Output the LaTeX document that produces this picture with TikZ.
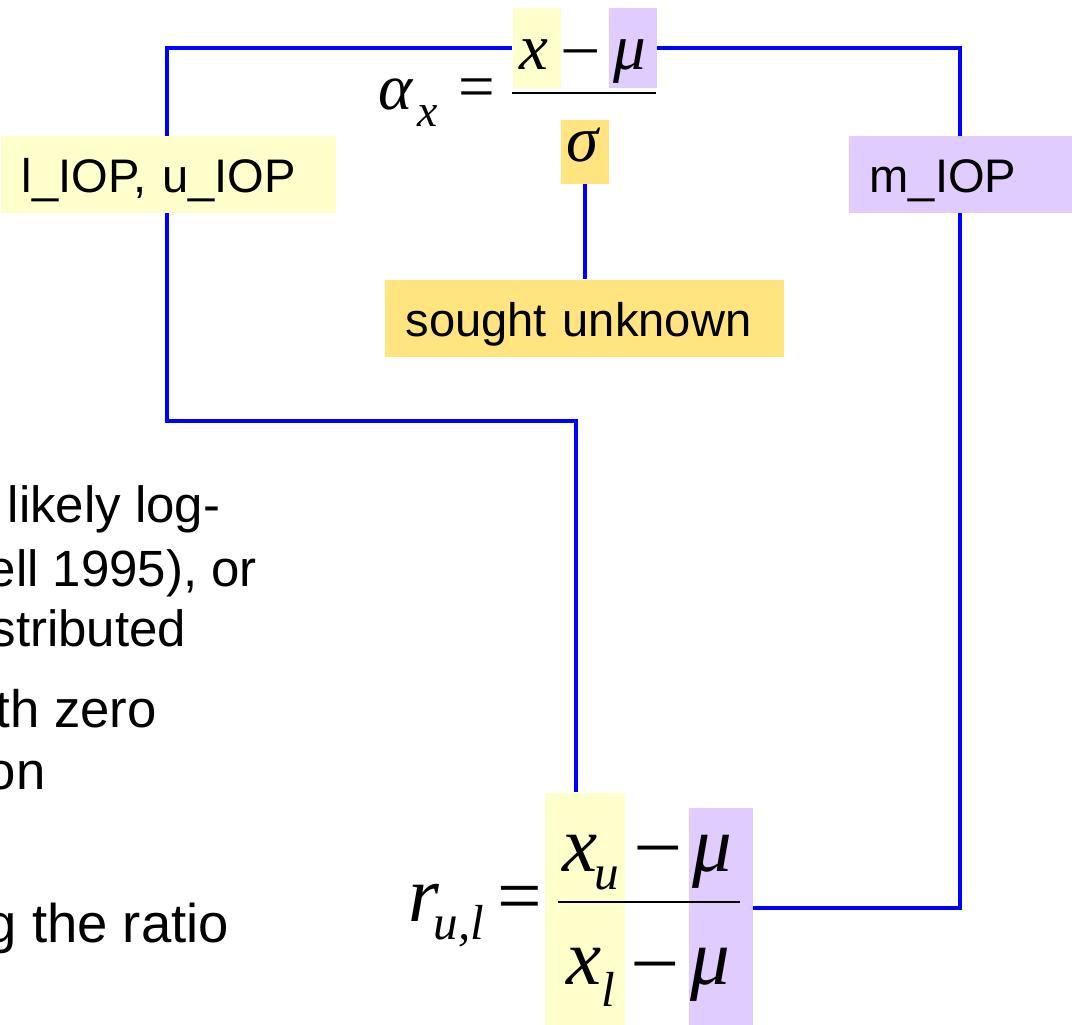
\documentclass[tikz,border=0pt]{standalone}
\usepackage{fontspec}
\setmainfont{Liberation Sans}
\newfontfamily\eqfont{Liberation Serif}
\usetikzlibrary{positioning, backgrounds}
\definecolor{hlyellow}{RGB}{255,255,204}
\definecolor{hlviolet}{RGB}{225,204,255}
\definecolor{hlgold}{RGB}{255,228,128}
\definecolor{linkblue}{RGB}{0,0,255}

\begin{document}
\begin{tikzpicture}[x=0.1mm, y=-0.1mm,
    hl/.style={inner sep=0pt, anchor=north west},
    tag/.style={anchor=north west, inner xsep=2.1mm, inner ysep=0pt,
        minimum height=7.7mm, text height=4.6mm, text depth=0.9mm, align=left,
        font=\fontsize{13.4}{16}\selectfont},
    prose/.style={anchor=base west, inner sep=0pt,
        font=\fontsize{14.5}{17}\selectfont},
    eqit/.style={anchor=base, inner sep=0pt, font=\eqfont\itshape\fontsize{18.5}{20}\selectfont},
    eqrm/.style={anchor=base, inner sep=0pt, font=\eqfont\fontsize{18.5}{20}\selectfont},
    eqsub/.style={anchor=base, inner sep=0pt, font=\eqfont\itshape\fontsize{13}{15}\selectfont},
    bigit/.style={anchor=base, inner sep=0pt, font=\eqfont\itshape\fontsize{22.5}{25}\selectfont},
    bigrm/.style={anchor=base, inner sep=0pt, font=\eqfont\fontsize{22.5}{25}\selectfont},
    bigsub/.style={anchor=base, inner sep=0pt, font=\eqfont\itshape\fontsize{14}{16}\selectfont},
    fracbar/.style={line width=0.25mm, black},
    link/.style={line width=0.38mm, linkblue},
]
    \clip (0,0) rectangle (1072,1025);

    % --- highlight boxes ---
    \node[hl, fill=hlyellow, minimum width=4.8mm, minimum height=8mm]   (xbox)   at (512,7)   {};
    \node[hl, fill=hlviolet, minimum width=4.8mm, minimum height=8mm]   (mubox)  at (608,7)   {};
    \node[hl, fill=hlgold,   minimum width=4.8mm, minimum height=6.4mm] (sigbox) at (560,119) {};
    \node[hl, fill=hlyellow, minimum width=8mm,   minimum height=23.3mm] (xlow)  at (544,792) {};
    \node[hl, fill=hlviolet, minimum width=6.4mm, minimum height=21.8mm] (mulow) at (688,807) {};

    % --- labels ---
    \node[tag, fill=hlyellow, text width=29.3mm] (iopl)   at (0,135)   {l\_IOP, u\_IOP};
    \node[tag, fill=hlviolet, text width=19.4mm] (iopm)   at (848,135) {m\_IOP};
    \node[tag, fill=hlgold,   text width=35.7mm] (sought) at (384,279) {sought unknown};

    % --- alpha formula ---
    \node[eqit] (alpha)    at (396,110) {α};
    \node[eqsub] (alphasub) at (428,127) {x};
    \node[eqrm] (eqtop)    at (477,109) {=};
    \node[eqit] (xtop)     at (534,70)  {x};
    \node[eqrm] (mintop)   at (581,67)  {–};
    \node[eqit] (mutop)    at (630,70)  {μ};
    \node[eqit] (sigma)    at (583,162) {σ};
    \draw[fracbar] (512,93) -- (656,93);

    % --- ratio formula ---
    \node[bigit] (r)      at (424,922) {r};
    \node[bigsub] (rsub)  at (459,940) {u,l};
    \node[bigrm] (eqlow)  at (520,923) {=};
    \node[bigit] (xu)     at (580,872) {x};
    \node[bigsub] (xusub) at (607,890) {u};
    \node[bigrm] (minu)   at (658,867) {–};
    \node[bigit] (muu)    at (712,872) {μ};
    \node[bigit] (xl)     at (584,985) {x};
    \node[bigsub] (xlsub) at (608,1007) {l};
    \node[bigrm] (minl)   at (655,983) {–};
    \node[bigit] (mul)    at (710,985) {μ};
    \draw[fracbar] (558,902) -- (740,902);

    % --- text cut at the left edge ---
    \node[prose] (p1) at (7,523)   {likely log-};
    \node[prose] (p2) at (-13,587) {ell 1995), or};
    \node[prose] (p3) at (-10,647) {stributed};
    \node[prose, font=\fontsize{15}{18}\selectfont] (p4) at (-5,728)  {th zero};
    \node[prose, font=\fontsize{15}{18}\selectfont] (p5) at (-14,790) {on};
    \node[prose, font=\fontsize{15.5}{18}\selectfont] (p6) at (-14,943) {g the ratio};

    % --- connectors ---
    \coordinate (lbend) at (167,421);
    \coordinate (xtopin) at (576,792);
    \coordinate (rbend) at (960,908);
    \begin{scope}[on background layer]
        \draw[link] (xbox.west) -| (lbend) -| (xtopin);
        \draw[link] (mubox.east) -| (rbend) -- (rbend -| mulow.east);
        \draw[link] (sigbox.south) -- (sigbox.south |- sought.north);
    \end{scope}
\end{tikzpicture}
\end{document}
